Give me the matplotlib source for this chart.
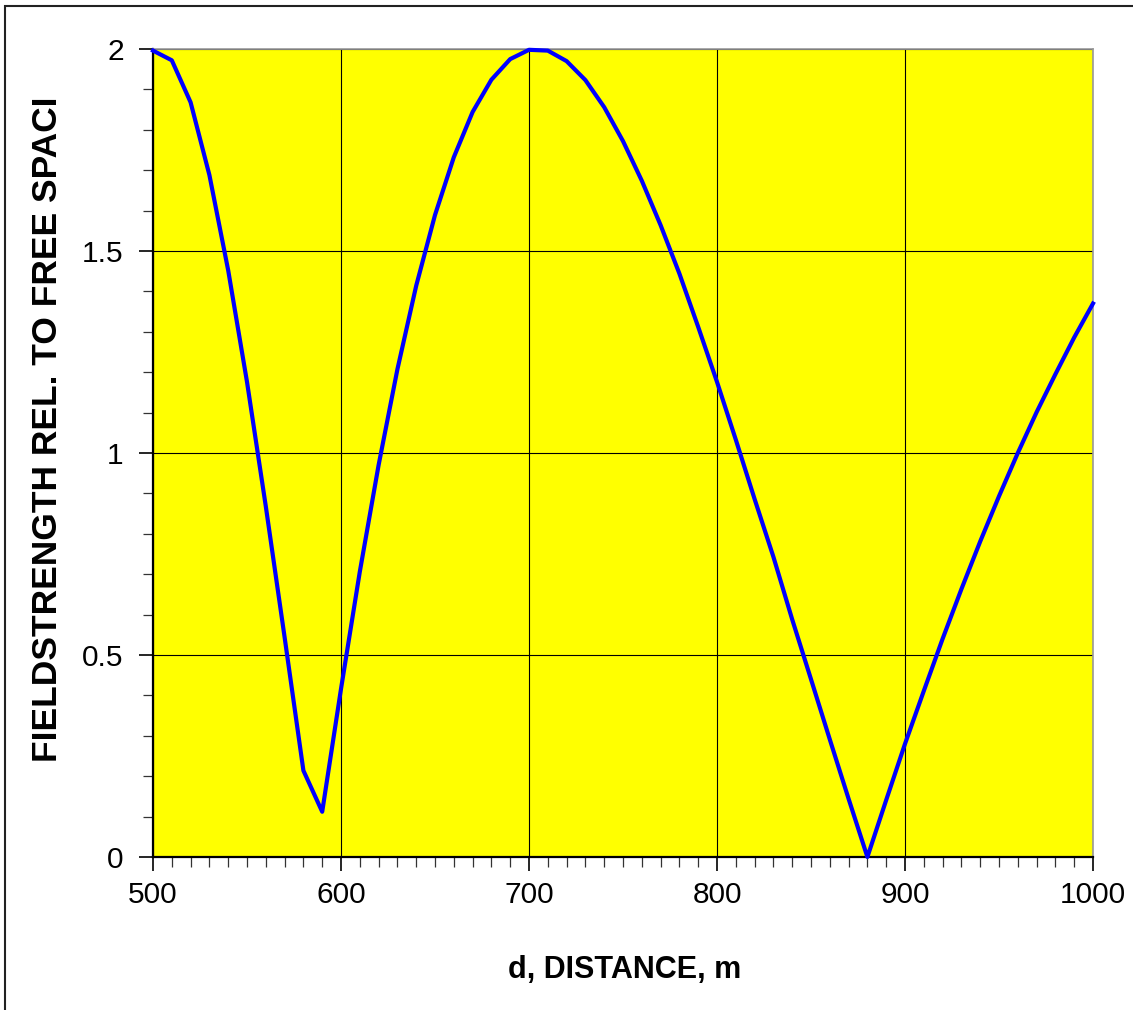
import matplotlib
matplotlib.use('Agg')
import matplotlib.pyplot as plt
from matplotlib.ticker import MultipleLocator
from matplotlib.patches import Rectangle

# distance (m) and field strength relative to free space
distance = [500, 510, 520, 530, 540, 550, 560, 570, 580, 590,
            600, 610, 620, 630, 640, 650, 660, 670, 680, 690,
            700, 710, 720, 730, 740, 750, 760, 770, 780, 790,
            800, 810, 820, 830, 840, 850, 860, 870, 880, 890,
            900, 910, 920, 930, 940, 950, 960, 970, 980, 990, 1000]
fieldstrength = [1.996, 1.972, 1.868, 1.688, 1.452, 1.176, 0.868, 0.544, 0.214, 0.112,
                 0.416, 0.706, 0.970, 1.207, 1.414, 1.589, 1.732, 1.844, 1.924, 1.975,
                 1.998, 1.996, 1.970, 1.923, 1.856, 1.772, 1.674, 1.564, 1.444, 1.312,
                 1.176, 1.033, 0.886, 0.743, 0.588, 0.440, 0.291, 0.144, 0.0, 0.141,
                 0.280, 0.411, 0.540, 0.663, 0.781, 0.893, 1.000, 1.101, 1.195, 1.286, 1.370]

x_ticks = [500, 600, 700, 800, 900, 1000]
y_ticks = [0, 0.5, 1, 1.5, 2]
y_ticklabels = ['0', '0.5', '1', '1.5', '2']

plt.rcParams['font.family'] = ['Liberation Sans', 'DejaVu Sans']

W, H = 1133, 1010
fig = plt.figure(figsize=(W / 100, H / 100), dpi=100)
fig.patch.set_facecolor('white')

# outer chart border (only left and top are visible in the original)
fig.patches.append(Rectangle((5.5 / W, -0.1), 1.2, (H - 6) / H + 0.1, transform=fig.transFigure,
                             fill=False, edgecolor='#222222', linewidth=1.5))

ax = fig.add_axes([153 / W, (H - 857) / H, 940 / W, 808 / H])
ax.set_facecolor('#ffff00')

ax.plot(distance, fieldstrength, color='#0000ff', linewidth=3.0, clip_on=False, zorder=3)

ax.set_xlim(500, 1000)
ax.set_ylim(0, 2)
ax.set_xticks(x_ticks)
ax.set_yticks(y_ticks)
ax.set_yticklabels(y_ticklabels)
ax.xaxis.set_minor_locator(MultipleLocator(10))
ax.yaxis.set_minor_locator(MultipleLocator(0.1))

ax.grid(True, which='major', color='black', linewidth=0.8, zorder=1)
ax.set_axisbelow(True)

ax.tick_params(axis='both', which='major', direction='out', length=10, width=1.2,
               labelsize=21.5, color='black')
ax.tick_params(axis='both', which='minor', direction='out', length=7, width=0.9, color='#333333')
ax.tick_params(axis='y', which='major', pad=11)
ax.tick_params(axis='x', which='major', pad=7)

for side in ['left', 'bottom']:
    ax.spines[side].set_color('black')
    ax.spines[side].set_linewidth(1.6)
for side in ['top', 'right']:
    ax.spines[side].set_color('#999999')
    ax.spines[side].set_linewidth(1.2)

fig.text(625 / W, 1 - 970 / H, 'd, DISTANCE, m', ha='center', va='center',
         fontsize=22, fontweight='bold')
fig.text(48 / W, 1 - 429 / H, 'FIELDSTRENGTH REL. TO FREE SPACI', ha='center', va='center',
         rotation=90, fontsize=25.5, fontweight='bold')

plt.savefig('out.png', dpi=100)
plt.close()
